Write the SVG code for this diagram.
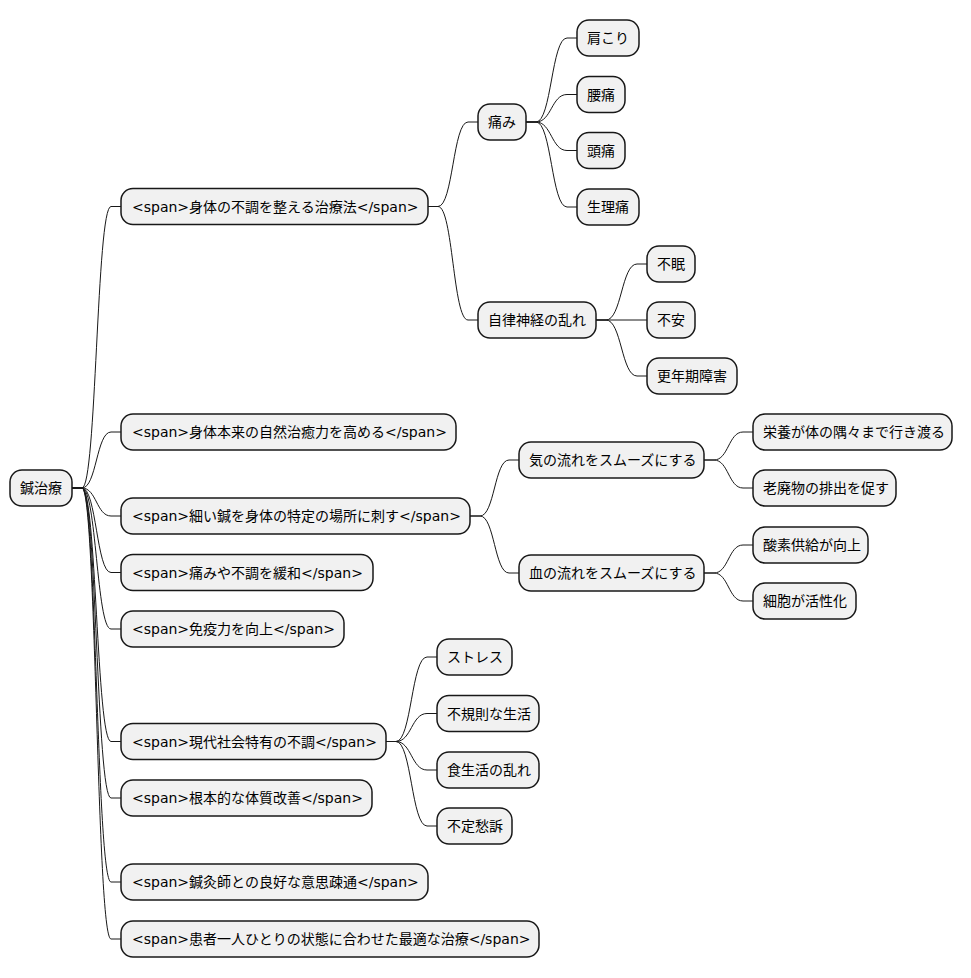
<svg xmlns="http://www.w3.org/2000/svg" width="971" height="978" viewBox="0 0 971 978">
<style>
.n rect{fill:#F1F1F1;stroke:#181818;stroke-width:1.5}
.n text{font-family:"DejaVu Sans","Noto Sans CJK JP",sans-serif;font-size:14px;fill:#000}
#connectors path{fill:none;stroke:#181818;stroke-width:1}
</style>
<rect width="971" height="978" fill="#FFFFFF"/>
<g id="connectors">
<path d="M72,488 H82 C96.5,488 96.5,206.5 111,206.5 H121"/>
<path d="M72,488 H82 C96.5,488 96.5,432 111,432 H121"/>
<path d="M72,488 H82 C96.5,488 96.5,516 111,516 H121"/>
<path d="M72,488 H82 C96.5,488 96.5,572.5 111,572.5 H121"/>
<path d="M72,488 H82 C96.5,488 96.5,629 111,629 H121"/>
<path d="M72,488 H82 C96.5,488 96.5,741.5 111,741.5 H121"/>
<path d="M72,488 H82 C96.5,488 96.5,798 111,798 H121"/>
<path d="M72,488 H82 C96.5,488 96.5,882 111,882 H121"/>
<path d="M72,488 H82 C96.5,488 96.5,939 111,939 H121"/>
<path d="M428,206.5 H438 C453,206.5 453,122 468,122 H478"/>
<path d="M428,206.5 H438 C453,206.5 453,320 468,320 H478"/>
<path d="M526,122 H536 C551.5,122 551.5,38 567,38 H577"/>
<path d="M526,122 H536 C551.5,122 551.5,94.5 567,94.5 H577"/>
<path d="M526,122 H536 C551.5,122 551.5,150.5 567,150.5 H577"/>
<path d="M526,122 H536 C551.5,122 551.5,207 567,207 H577"/>
<path d="M596,320 H606 C621.5,320 621.5,264 637,264 H647"/>
<path d="M596,320 H647"/>
<path d="M596,320 H606 C621.5,320 621.5,376 637,376 H647"/>
<path d="M470,516 H480 C494.5,516 494.5,460 509,460 H519"/>
<path d="M470,516 H480 C494.5,516 494.5,573 509,573 H519"/>
<path d="M704,460 H714 C728.5,460 728.5,432 743,432 H753"/>
<path d="M704,460 H714 C728.5,460 728.5,488 743,488 H753"/>
<path d="M704,573 H714 C728.5,573 728.5,545 743,545 H753"/>
<path d="M704,573 H714 C728.5,573 728.5,601 743,601 H753"/>
<path d="M386,741.5 H396 C411.5,741.5 411.5,657 427,657 H437"/>
<path d="M386,741.5 H396 C411.5,741.5 411.5,713.5 427,713.5 H437"/>
<path d="M386,741.5 H396 C411.5,741.5 411.5,770 427,770 H437"/>
<path d="M386,741.5 H396 C411.5,741.5 411.5,826 427,826 H437"/>
</g>
<g id="root" class="n"><rect x="10" y="470" width="62" height="36" rx="12"/><text x="20" y="493">鍼治療</text></g>
<g id="n1" class="n"><rect x="121" y="188.5" width="307" height="36" rx="12"/><text x="132" y="211.5">&lt;span&gt;身体の不調を整える治療法&lt;/span&gt;</text></g>
<g id="n1a" class="n"><rect x="478" y="104" width="48" height="36" rx="12"/><text x="488" y="127">痛み</text></g>
<g id="n1a1" class="n"><rect x="577" y="20" width="62" height="36" rx="12"/><text x="587" y="43">肩こり</text></g>
<g id="n1a2" class="n"><rect x="577" y="76.5" width="48" height="36" rx="12"/><text x="587" y="99.5">腰痛</text></g>
<g id="n1a3" class="n"><rect x="577" y="132.5" width="48" height="36" rx="12"/><text x="587" y="155.5">頭痛</text></g>
<g id="n1a4" class="n"><rect x="577" y="189" width="62" height="36" rx="12"/><text x="587" y="212">生理痛</text></g>
<g id="n1b" class="n"><rect x="478" y="302" width="118" height="36" rx="12"/><text x="488" y="325">自律神経の乱れ</text></g>
<g id="n1b1" class="n"><rect x="647" y="246" width="48" height="36" rx="12"/><text x="657" y="269">不眠</text></g>
<g id="n1b2" class="n"><rect x="647" y="302" width="48" height="36" rx="12"/><text x="657" y="325">不安</text></g>
<g id="n1b3" class="n"><rect x="647" y="358" width="90" height="36" rx="12"/><text x="657" y="381">更年期障害</text></g>
<g id="n2" class="n"><rect x="121" y="414" width="335" height="36" rx="12"/><text x="132" y="437">&lt;span&gt;身体本来の自然治癒力を高める&lt;/span&gt;</text></g>
<g id="n3" class="n"><rect x="121" y="498" width="349" height="36" rx="12"/><text x="132" y="521">&lt;span&gt;細い鍼を身体の特定の場所に刺す&lt;/span&gt;</text></g>
<g id="n3a" class="n"><rect x="519" y="442" width="185" height="36" rx="12"/><text x="529" y="465">気の流れをスムーズにする</text></g>
<g id="n3a1" class="n"><rect x="753" y="414" width="199" height="36" rx="12"/><text x="763" y="437">栄養が体の隅々まで行き渡る</text></g>
<g id="n3a2" class="n"><rect x="753" y="470" width="143" height="36" rx="12"/><text x="763" y="493">老廃物の排出を促す</text></g>
<g id="n3b" class="n"><rect x="519" y="555" width="185" height="36" rx="12"/><text x="529" y="578">血の流れをスムーズにする</text></g>
<g id="n3b1" class="n"><rect x="753" y="527" width="115" height="36" rx="12"/><text x="763" y="550">酸素供給が向上</text></g>
<g id="n3b2" class="n"><rect x="753" y="583" width="103" height="36" rx="12"/><text x="763" y="606">細胞が活性化</text></g>
<g id="n4" class="n"><rect x="121" y="554.5" width="252" height="36" rx="12"/><text x="132" y="577.5">&lt;span&gt;痛みや不調を緩和&lt;/span&gt;</text></g>
<g id="n5" class="n"><rect x="121" y="611" width="223" height="36" rx="12"/><text x="132" y="634">&lt;span&gt;免疫力を向上&lt;/span&gt;</text></g>
<g id="n6" class="n"><rect x="121" y="723.5" width="265" height="36" rx="12"/><text x="132" y="746.5">&lt;span&gt;現代社会特有の不調&lt;/span&gt;</text></g>
<g id="n6a" class="n"><rect x="437" y="639" width="75" height="36" rx="12"/><text x="447" y="662">ストレス</text></g>
<g id="n6b" class="n"><rect x="437" y="695.5" width="102" height="36" rx="12"/><text x="447" y="718.5">不規則な生活</text></g>
<g id="n6c" class="n"><rect x="437" y="752" width="102" height="36" rx="12"/><text x="447" y="775">食生活の乱れ</text></g>
<g id="n6d" class="n"><rect x="437" y="808" width="75" height="36" rx="12"/><text x="447" y="831">不定愁訴</text></g>
<g id="n7" class="n"><rect x="121" y="780" width="251" height="36" rx="12"/><text x="132" y="803">&lt;span&gt;根本的な体質改善&lt;/span&gt;</text></g>
<g id="n8" class="n"><rect x="121" y="864" width="307" height="36" rx="12"/><text x="132" y="887">&lt;span&gt;鍼灸師との良好な意思疎通&lt;/span&gt;</text></g>
<g id="n9" class="n"><rect x="121" y="921" width="418" height="36" rx="12"/><text x="132" y="944">&lt;span&gt;患者一人ひとりの状態に合わせた最適な治療&lt;/span&gt;</text></g>
</svg>
